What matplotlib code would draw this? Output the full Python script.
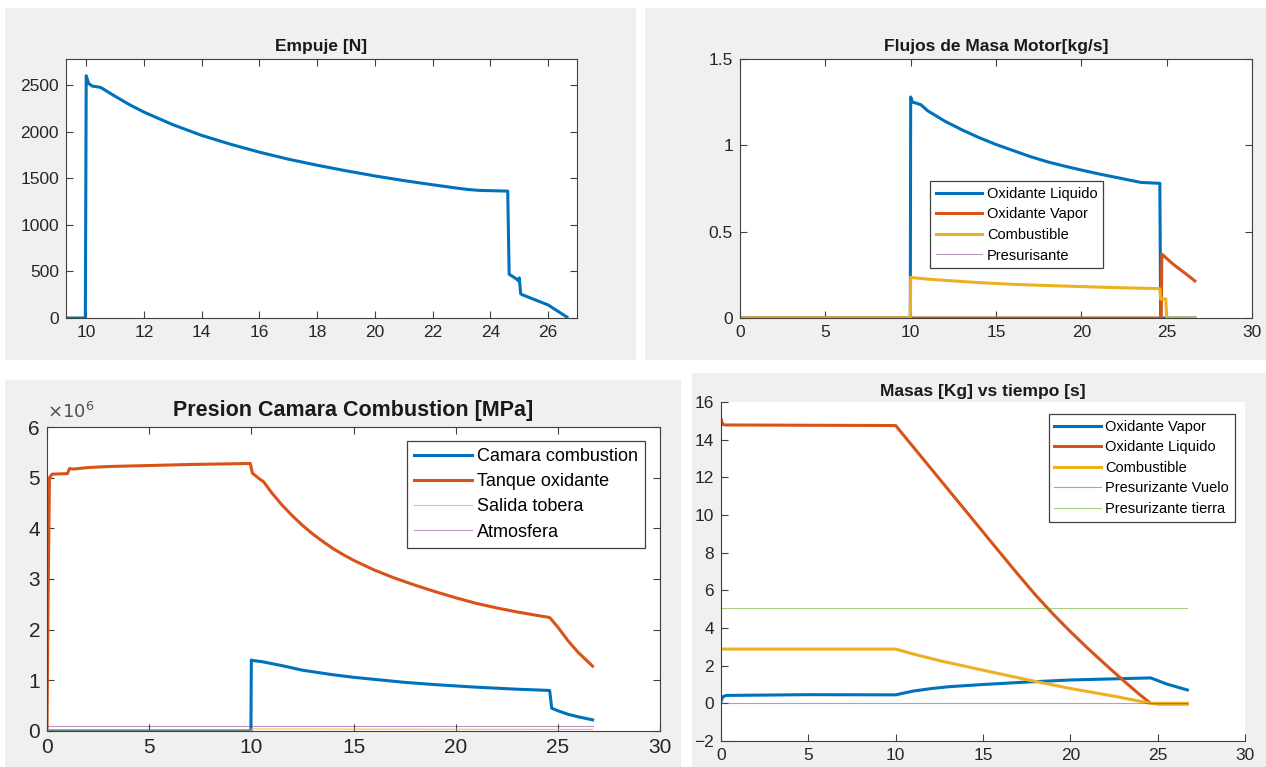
import matplotlib
matplotlib.use("Agg")
import matplotlib.pyplot as plt
from matplotlib.patches import Rectangle
from matplotlib.ticker import FuncFormatter

# ================= DATA =================
# Empuje [N]
t_emp = [9.3, 9.97, 10.0, 10.08, 10.2, 10.5, 11.0, 11.5, 12.0, 13.0, 14.0, 15.0, 16.0, 17.0, 18.0,
         19.0, 20.0, 21.0, 22.0, 22.7, 23.2, 23.6, 24.6, 24.65, 24.9, 24.97, 25.0, 25.05, 25.1,
         26.0, 26.65]
empuje = [0, 0, 2600, 2520, 2490, 2475, 2380, 2290, 2210, 2075, 1960, 1865, 1780, 1705, 1640,
          1580, 1525, 1475, 1430, 1400, 1380, 1370, 1362, 470, 420, 400, 430, 260, 250, 140, 10]

# Flujos de masa motor [kg/s]
t_liq = [0, 9.98, 10.0, 10.1, 10.3, 10.6, 11, 12, 13, 14, 15, 16, 17, 18, 19, 20, 21, 22, 23,
         23.5, 24.6, 24.65, 26.65]
flujo_liq = [0, 0, 1.28, 1.25, 1.245, 1.235, 1.20, 1.14, 1.09, 1.045, 1.005, 0.97, 0.935, 0.905,
             0.88, 0.857, 0.835, 0.815, 0.795, 0.785, 0.78, 0, 0]
t_vap = [0, 24.68, 24.72, 25.0, 25.4, 25.8, 26.2, 26.65]
flujo_vap = [0, 0, 0.37, 0.345, 0.31, 0.28, 0.25, 0.215]
t_comb = [0, 9.98, 10.0, 11, 12, 14, 16, 18, 20, 22, 24.6, 24.65, 24.95, 25.0, 26.65]
flujo_comb = [0, 0, 0.235, 0.225, 0.218, 0.205, 0.195, 0.188, 0.182, 0.176, 0.17, 0.11, 0.11, 0, 0]
t_pres = [0, 26.65]
flujo_pres = [0, 0]

# Presiones [Pa]
t_cam = [0, 9.98, 10.0, 10.1, 10.5, 11, 11.5, 12, 12.5, 13, 14, 15, 16, 17, 17.5, 18, 19, 20,
         21, 22, 22.5, 23, 24, 24.6, 24.7, 25.0, 25.5, 26.0, 26.7]
p_cam = [0, 0, 1.40e6, 1.39e6, 1.37e6, 1.33e6, 1.29e6, 1.245e6, 1.20e6, 1.17e6, 1.11e6, 1.06e6,
         1.02e6, 0.98e6, 0.96e6, 0.945e6, 0.915e6, 0.89e6, 0.865e6, 0.845e6, 0.835e6, 0.825e6,
         0.81e6, 0.80e6, 0.45e6, 0.40e6, 0.33e6, 0.28e6, 0.22e6]
t_tanque = [0, 0.05, 0.12, 0.25, 1.0, 1.1, 1.3, 2, 3, 5, 7, 9.95, 10.05, 10.35, 10.6, 11.0,
            11.5, 12.0, 12.5, 13.0, 13.5, 14.0, 14.5, 15, 16, 17, 18, 19, 20, 21, 22, 23, 24,
            24.6, 25.0, 25.5, 26.0, 26.7]
p_tanque = [0.07e6, 2.5e6, 5.0e6, 5.07e6, 5.08e6, 5.18e6, 5.17e6, 5.20e6, 5.22e6, 5.24e6, 5.26e6,
            5.28e6, 5.09e6, 4.99e6, 4.92e6, 4.70e6, 4.46e6, 4.25e6, 4.06e6, 3.89e6, 3.74e6,
            3.60e6, 3.48e6, 3.37e6, 3.18e6, 3.02e6, 2.88e6, 2.75e6, 2.63e6, 2.52e6, 2.43e6,
            2.35e6, 2.28e6, 2.24e6, 2.05e6, 1.78e6, 1.55e6, 1.28e6]
t_tobera = [0, 9.98, 10.0, 26.7]
p_tobera = [0, 0, 0.04e6, 0.03e6]
t_atm = [0, 26.7]
p_atm = [0.1013e6, 0.1013e6]

# Masas [Kg]
t_mvap = [0, 0.1, 0.3, 5, 10, 11, 12, 13, 15, 17.5, 20, 22.5, 24.6, 25.5, 26.7]
m_vap = [0.1, 0.35, 0.42, 0.46, 0.45, 0.65, 0.78, 0.88, 1.0, 1.13, 1.24, 1.3, 1.35, 1.03, 0.71]
t_mliq = [0, 0.1, 0.3, 10, 11, 12, 13, 14, 15, 16, 17, 18, 19, 20, 21, 22, 23, 24, 24.6,
          25.0, 26.7]
m_liq = [15.1, 14.8, 14.78, 14.75, 13.62, 12.49, 11.36, 10.23, 9.1, 7.97, 6.85, 5.76, 4.75,
         3.81, 2.92, 2.07, 1.24, 0.44, 0, -0.03, -0.03]
t_mcomb = [0, 10, 11, 12.5, 15, 17.5, 20, 22.5, 24.6, 26.7]
m_comb = [2.88, 2.88, 2.62, 2.27, 1.76, 1.26, 0.79, 0.38, 0, 0]
t_mpres = [0, 26.7]
m_pres_vuelo = [0, 0]
m_pres_tierra = [5.05, 5.05]

# ================= STYLE =================
BLUE = "#0072BD"
RED = "#D95319"
YELLOW = "#EDB120"
PURPLE = "#7E2F8E"
GREEN = "#77AC30"
GREY_BG = "#f0f0f0"
AX_COL = "#404040"

plt.rcParams["font.family"] = ["Liberation Sans", "DejaVu Sans"]

W, H = 1266, 767
fig = plt.figure(figsize=(W / 100, H / 100), dpi=100, facecolor="white")


def px_rect(l, t, r, b):
    return [l / W, 1 - b / H, (r - l) / W, (b - t) / H]


# grey panel backgrounds (behind the axes)
for l, t, r, b in [(5, 8, 636, 360), (645, 8, 1266, 360), (5, 380, 681, 767), (692, 373, 1266, 767)]:
    x0, y0, w, h = px_rect(l, t, r, b)
    fig.patches.append(Rectangle((x0, y0), w, h, transform=fig.transFigure,
                                 facecolor=GREY_BG, edgecolor="none", zorder=-10))


def style_axes(ax, fs, box=True):
    for s in ax.spines.values():
        s.set_color(AX_COL)
        s.set_linewidth(0.8)
    if not box:
        ax.spines["top"].set_visible(False)
        ax.spines["right"].set_visible(False)
    ax.tick_params(direction="in", top=box, right=box, length=5, width=0.8,
                   colors=AX_COL, labelsize=fs, labelcolor="#262626", pad=5)


def make_legend(ax, x0, ytop, fs, spacing):
    leg = ax.legend(loc="upper left", bbox_to_anchor=(x0, ytop), borderaxespad=0,
                    fontsize=fs, fancybox=False, framealpha=1, edgecolor=AX_COL,
                    handlelength=3.2, labelspacing=spacing, borderpad=0.4, handletextpad=0.3)
    leg.get_frame().set_linewidth(0.9)
    return leg


# ================= PANEL 1: Empuje =================
ax1 = fig.add_axes(px_rect(66, 59, 577, 318))
ax1.plot(t_emp, empuje, color=BLUE, lw=2.2)
ax1.set_xlim(9.3, 27.0)
ax1.set_ylim(0, 2780)
ax1.set_xticks(range(10, 27, 2))
ax1.set_yticks(range(0, 2501, 500))
style_axes(ax1, 12.5)
ax1.set_title("Empuje [N]", fontsize=12.5, fontweight="bold", color="#1a1a1a", pad=6)

# ================= PANEL 2: Flujos =================
ax2 = fig.add_axes(px_rect(740, 59, 1252, 318))
ax2.plot(t_liq, flujo_liq, color=BLUE, lw=2.2, label="Oxidante Liquido")
ax2.plot(t_vap, flujo_vap, color=RED, lw=2.2, label="Oxidante Vapor")
ax2.plot(t_comb, flujo_comb, color=YELLOW, lw=2.2, label="Combustible")
ax2.plot(t_pres, flujo_pres, color=PURPLE, lw=0.8, alpha=0.5, label="Presurisante")
ax2.set_xlim(0, 30)
ax2.set_ylim(0, 1.5)
ax2.set_xticks(range(0, 31, 5))
ax2.set_yticks([0, 0.5, 1, 1.5])
ax2.yaxis.set_major_formatter(FuncFormatter(lambda v, p: f"{v:g}"))
style_axes(ax2, 12.5)
ax2.set_title("Flujos de Masa Motor[kg/s]", fontsize=12.5, fontweight="bold", color="#1a1a1a", pad=6)
make_legend(ax2, 0.371, 0.529, 10.5, 0.45)

# ================= PANEL 3: Presiones =================
ax3 = fig.add_axes(px_rect(47, 427, 660, 731))
ax3.plot(t_cam, p_cam, color=BLUE, lw=2.2, label="Camara combustion")
ax3.plot(t_tanque, p_tanque, color=RED, lw=2.2, label="Tanque oxidante")
ax3.plot(t_tobera, p_tobera, color=YELLOW, lw=0.8, alpha=0.8, label="Salida tobera")
ax3.plot(t_atm, p_atm, color=PURPLE, lw=0.8, alpha=0.5, label="Atmosfera")
ax3.set_xlim(0, 30)
ax3.set_ylim(0, 6e6)
ax3.set_xticks(range(0, 31, 5))
ax3.set_yticks([i * 1e6 for i in range(7)])
ax3.yaxis.set_major_formatter(FuncFormatter(lambda v, p: f"{v / 1e6:g}"))
style_axes(ax3, 15)
ax3.set_title("Presion Camara Combustion [MPa]", fontsize=15.5, fontweight="bold", color="#1a1a1a", pad=8)
ax3.text(0.0, 1.015, r"$\times10^{6}$", transform=ax3.transAxes, fontsize=13,
         color="#505050", ha="left", va="bottom")
make_legend(ax3, 0.587, 0.954, 13, 0.45)

# ================= PANEL 4: Masas =================
ax4 = fig.add_axes(px_rect(721, 402, 1245, 741))
ax4.plot(t_mvap, m_vap, color=BLUE, lw=2.2, label="Oxidante Vapor")
ax4.plot(t_mliq, m_liq, color=RED, lw=2.2, label="Oxidante Liquido")
ax4.plot(t_mcomb, m_comb, color=YELLOW, lw=2.2, label="Combustible")
ax4.plot(t_mpres, m_pres_vuelo, color=PURPLE, lw=0.8, alpha=0.5, label="Presurizante Vuelo")
ax4.plot(t_mpres, m_pres_tierra, color=GREEN, lw=0.8, alpha=0.6, label="Presurizante tierra")
ax4.set_xlim(0, 30)
ax4.set_ylim(-2, 16)
ax4.set_xticks(range(0, 31, 5))
ax4.set_yticks(range(-2, 17, 2))
style_axes(ax4, 12.5, box=False)
ax4.set_title("Masas [Kg] vs tiempo [s]", fontsize=12.5, fontweight="bold", color="#1a1a1a", pad=4)
make_legend(ax4, 0.625, 0.965, 10.5, 0.45)

fig.savefig("out.png", dpi=100, facecolor="white")
